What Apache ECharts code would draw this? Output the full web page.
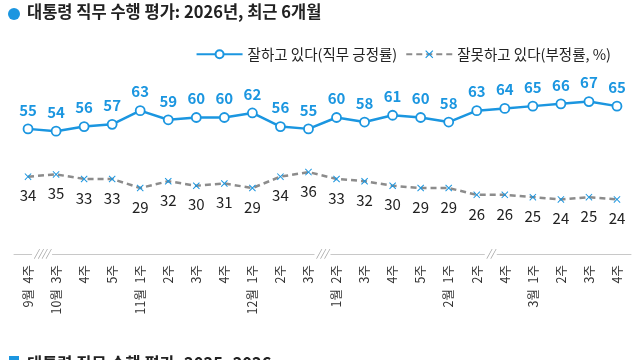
<!DOCTYPE html>
<html><head><meta charset="utf-8">
<script src="https://cdn.jsdelivr.net/npm/echarts@6/dist/echarts.min.js"></script>
<style>html,body{margin:0;padding:0;background:#fff}#c{width:640px;height:360px}</style>
</head><body><div id="c"></div>
<script>
const categories = ['9월 4주','10월 3주','4주','5주','11월 1주','2주','3주','4주','12월 1주','2주','3주','1월 2주','3주','4주','5주','2월 1주','2주','4주','3월 1주','2주','3주','4주'];
const approve = [55,54,56,57,63,59,60,60,62,56,55,60,58,61,60,58,63,64,65,66,67,65];
const disapprove = [34,35,33,33,29,32,30,31,29,34,36,33,32,30,29,29,26,26,25,24,25,24];
const breaks = [[0,1,'////'],[10,11,'///'],[16,17,'//']];
const seriesNames = ['잘하고 있다(직무 긍정률)','잘못하고 있다(부정률, %)'];
const title = '대통령 직무 수행 평가: 2026년, 최근 6개월';
const nextTitle = '대통령 직무 수행 평가: 2025~2026';

const FONT = '"Noto Sans CJK KR", "Noto Sans", sans-serif';
const BLUE = '#1b96e0';
const XPATH = 'path://M1,0L5,4L9,0L10,1L6,5L10,9L9,10L5,6L1,10L0,9L4,5L0,1Z';

const chart = echarts.init(document.getElementById('c'), null, {renderer:'canvas'});
const option = {
  animation:false,
  textStyle:{fontFamily:FONT},
  legend:{
    top:42, right:24, itemGap:8, itemWidth:46, itemHeight:10,
    textStyle:{fontSize:14.5, color:'#222', fontFamily:FONT},
    data:[
      {name:seriesNames[0]},
      {name:seriesNames[1]}
    ]
  },
  grid:{left:14, right:9, top:72, bottom:106},
  xAxis:{
    type:'category', data:categories, boundaryGap:true,
    axisLine:{lineStyle:{color:'#c8c8c8', width:1}},
    axisTick:{inside:true, alignWithLabel:true, length:5, lineStyle:{color:'#c8c8c8'}},
    axisLabel:{rotate:90, interval:0, margin:11, fontSize:12.5, color:'#333', fontFamily:FONT,
      formatter: v => v.replace(' ', '  ')}
  },
  yAxis:{type:'value', min:0, max:80, show:false, splitLine:{show:false}},
  series:[
    {
      name:seriesNames[0], type:'line', data:approve,
      symbol:'circle', symbolSize:9, showAllSymbol:true,
      lineStyle:{color:BLUE, width:2.5},
      itemStyle:{color:'#fff', borderColor:BLUE, borderWidth:1.8},
      label:{show:true, position:'top', distance:6, color:BLUE, fontSize:15, fontWeight:'bold', fontFamily:FONT}
    },
    {
      name:seriesNames[1], type:'line', data:disapprove,
      symbol:XPATH, symbolSize:7, showAllSymbol:true,
      lineStyle:{color:'#8c8c8c', width:2.5, type:[6,4]},
      itemStyle:{color:BLUE},
      label:{show:true, position:'bottom', distance:8, color:'#222', fontSize:15, fontFamily:FONT}
    }
  ],
  graphic:[
    {type:'circle', shape:{cx:14, cy:14, r:6}, style:{fill:BLUE}},
    {type:'text', left:27, top:3, style:{text:title, font:'bold 16.5px '+FONT, fill:'#222'}},
    {type:'rect', shape:{x:9, y:356, width:10, height:10}, style:{fill:BLUE}},
    {type:'text', left:27, top:355, style:{text:nextTitle, font:'bold 16.5px '+FONT, fill:'#222'}}
  ]
};
chart.setOption(option);

const g = option.graphic.slice();
breaks.forEach(b => {
  const p0 = chart.convertToPixel({xAxisIndex:0, yAxisIndex:0}, [b[0], 0]);
  const p1 = chart.convertToPixel({xAxisIndex:0, yAxisIndex:0}, [b[1], 0]);
  const mx = (p0[0] + p1[0]) / 2;
  const w = b[2].length * 4 + 4;
  g.push({type:'rect', shape:{x:mx - w/2, y:p0[1]-3, width:w, height:6}, style:{fill:'#fff'}, z:100});
  g.push({type:'text', x:mx, y:p0[1]-1, z:101, style:{text:b[2], font:'italic 10px '+FONT, fill:'#999', align:'center', verticalAlign:'middle'}});
});
chart.setOption({graphic:g});
</script>
</body></html>
